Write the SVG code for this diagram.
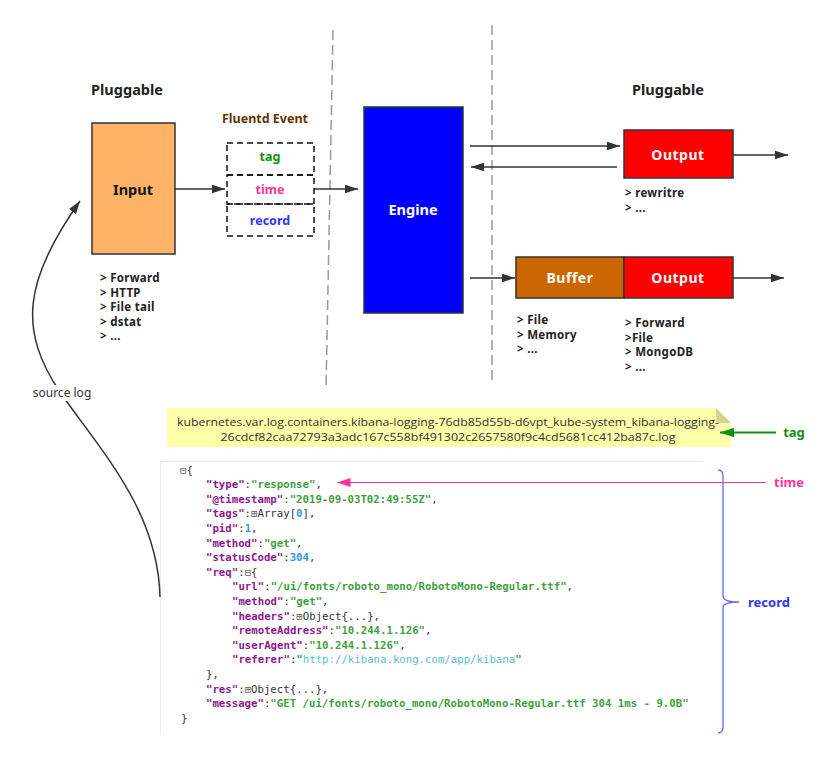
<svg xmlns="http://www.w3.org/2000/svg" width="840" height="757" viewBox="0 0 840 757">
<defs>
<style>
.t{font-family:"Noto Sans","Open Sans","DejaVu Sans",sans-serif;font-weight:bold;}
.lst{font-family:"Noto Sans","Open Sans","DejaVu Sans",sans-serif;font-weight:bold;font-size:11.5px;letter-spacing:0.3px;fill:#222;}
.box{stroke:#333;stroke-width:1.5;}
.dash{fill:none;stroke:#111;stroke-width:1.5;stroke-dasharray:6,4;}
.sep{fill:none;stroke:#999;stroke-width:1.5;stroke-dasharray:10,5;}
.ar{fill:none;stroke:#333;stroke-width:1.5;}
.j{font-family:"DejaVu Sans Mono","Liberation Mono",monospace;font-size:10.7px;fill:#333;}
.k{fill:#8b1a8b;font-weight:bold;}
.s{fill:#3f9f3f;font-weight:bold;}
.n{fill:#3a98d8;font-weight:bold;}
.u{fill:#5bbcd6;}
.g{fill:#666;}
</style>
<marker id="ah" viewBox="0 0 12 8" refX="12" refY="4" markerWidth="13" markerHeight="9" markerUnits="userSpaceOnUse" orient="auto">
<path d="M0,0 L12,4 L0,8 z" fill="#333"/>
</marker>
<marker id="ahg" viewBox="0 0 12 8" refX="12" refY="4" markerWidth="14" markerHeight="10" markerUnits="userSpaceOnUse" orient="auto">
<path d="M0,0 L12,4 L0,8 z" fill="#109010"/>
</marker>
<marker id="ahp" viewBox="0 0 12 8" refX="12" refY="4" markerWidth="14" markerHeight="9" markerUnits="userSpaceOnUse" orient="auto">
<path d="M0,0 L12,4 L0,8 z" fill="#ff3399"/>
</marker>
</defs>
<rect width="840" height="757" fill="#fff"/>

<g id="separators">
<line class="sep" x1="333" y1="30" x2="326" y2="390"/>
<line class="sep" x1="492" y1="25" x2="492" y2="384"/>
</g>

<g id="pluggable-left"><text class="t" x="127" y="95" text-anchor="middle" font-size="14.5" fill="#222">Pluggable</text></g>
<g id="pluggable-right"><text class="t" x="668" y="95" text-anchor="middle" font-size="14.5" fill="#222">Pluggable</text></g>

<g id="input">
<rect class="box" x="92" y="123" width="83" height="131" fill="#ffb366"/>
<text class="t" x="133" y="195" text-anchor="middle" font-size="14.5" fill="#111">Input</text>
</g>
<g id="input-list">
<text class="lst" x="100" y="282">&gt; Forward</text>
<text class="lst" x="100" y="296.5">&gt; HTTP</text>
<text class="lst" x="100" y="311">&gt; File tail</text>
<text class="lst" x="100" y="325.5">&gt; dstat</text>
<text class="lst" x="100" y="340">&gt; ...</text>
</g>

<g id="fluentd-event">
<text class="t" x="265" y="123" text-anchor="middle" font-size="12.5" fill="#663300">Fluentd Event</text>
<rect class="dash" x="227" y="143" width="87" height="32"/>
<rect class="dash" x="227" y="175" width="87" height="29"/>
<rect class="dash" x="227" y="204" width="87" height="32"/>
<text class="t" x="270" y="161" text-anchor="middle" font-size="12.5" fill="#109010">tag</text>
<text class="t" x="270" y="194" text-anchor="middle" font-size="12.5" fill="#ff3399">time</text>
<text class="t" x="270" y="225" text-anchor="middle" font-size="12.5" fill="#3333ff">record</text>
</g>

<g id="engine">
<rect class="box" x="364" y="107" width="99" height="206" fill="#0000ff"/>
<text class="t" x="413" y="215" text-anchor="middle" font-size="14.5" fill="#fff">Engine</text>
</g>

<g id="output-top">
<rect class="box" x="624" y="130" width="109" height="48" fill="#ff0000"/>
<text class="t" x="678" y="160" text-anchor="middle" font-size="14" fill="#fff" letter-spacing="0.5">Output</text>
</g>
<g id="output-top-list">
<text class="lst" x="625" y="197">&gt; rewritre</text>
<text class="lst" x="625" y="212">&gt; ...</text>
</g>

<g id="buffer">
<rect class="box" x="516" y="257" width="108" height="41" fill="#cc6600"/>
<text class="t" x="570" y="283" text-anchor="middle" font-size="14" fill="#fff" letter-spacing="0.5">Buffer</text>
</g>
<g id="output-bottom">
<rect class="box" x="624" y="257" width="109" height="41" fill="#ff0000"/>
<text class="t" x="678" y="283" text-anchor="middle" font-size="14" fill="#fff" letter-spacing="0.5">Output</text>
</g>
<g id="buffer-list">
<text class="lst" x="517" y="324">&gt; File</text>
<text class="lst" x="517" y="338.5">&gt; Memory</text>
<text class="lst" x="517" y="353">&gt; ...</text>
</g>
<g id="output-bottom-list">
<text class="lst" x="625" y="327">&gt; Forward</text>
<text class="lst" x="625" y="341.5">&gt;File</text>
<text class="lst" x="625" y="356">&gt; MongoDB</text>
<text class="lst" x="625" y="370.5">&gt; ...</text>
</g>

<g id="tag-note">
<path d="M167,408 L716,408 L731,423 L731,447 L167,447 z" fill="#ffffaa"/>
<path d="M716,408 L731,423 L716,423 z" fill="#d4d48c"/>
<text x="448" y="425.5" text-anchor="middle" font-family="Open Sans, Noto Sans, sans-serif" font-size="11" fill="#333" textLength="542" lengthAdjust="spacingAndGlyphs">kubernetes.var.log.containers.kibana-logging-76db85d55b-d6vpt_kube-system_kibana-logging-</text>
<text x="448" y="441" text-anchor="middle" font-family="Open Sans, Noto Sans, sans-serif" font-size="11" fill="#333" textLength="455" lengthAdjust="spacingAndGlyphs">26cdcf82caa72793a3adc167c558bf491302c2657580f9c4cd5681cc412ba87c.log</text>
</g>
<g id="tag-label"><text class="t" x="794" y="437" text-anchor="middle" font-size="13" fill="#109010">tag</text></g>
<g id="time-label"><text class="t" x="789" y="487" text-anchor="middle" font-size="13" fill="#ff3399">time</text></g>
<g id="record-label"><text class="t" x="748" y="607" font-size="13" fill="#3333ff">record</text></g>

<g id="record-json">
<line x1="160" y1="461.5" x2="703" y2="461.5" stroke="#e8e8e8" stroke-width="1"/>
<line x1="160.5" y1="461" x2="160.5" y2="734" stroke="#eeeeee" stroke-width="1"/>
<text class="j" x="180" y="473.5"><tspan class="g">⊟</tspan>{</text>
<text class="j" x="206" y="488.1"><tspan class="k">"type"</tspan>:<tspan class="s">"response"</tspan>,</text>
<text class="j" x="206" y="502.7"><tspan class="k">"@timestamp"</tspan>:<tspan class="s">"2019-09-03T02:49:55Z"</tspan>,</text>
<text class="j" x="206" y="517.3"><tspan class="k">"tags"</tspan>:<tspan class="g">⊞</tspan>Array[<tspan class="n">0</tspan>],</text>
<text class="j" x="206" y="531.9"><tspan class="k">"pid"</tspan>:<tspan class="n">1</tspan>,</text>
<text class="j" x="206" y="546.5"><tspan class="k">"method"</tspan>:<tspan class="s">"get"</tspan>,</text>
<text class="j" x="206" y="561.1"><tspan class="k">"statusCode"</tspan>:<tspan class="n">304</tspan>,</text>
<text class="j" x="206" y="575.7"><tspan class="k">"req"</tspan>:<tspan class="g">⊟</tspan>{</text>
<text class="j" x="232" y="590.3"><tspan class="k">"url"</tspan>:<tspan class="s">"/ui/fonts/roboto_mono/RobotoMono-Regular.ttf"</tspan>,</text>
<text class="j" x="232" y="604.9"><tspan class="k">"method"</tspan>:<tspan class="s">"get"</tspan>,</text>
<text class="j" x="232" y="619.5"><tspan class="k">"headers"</tspan>:<tspan class="g">⊞</tspan>Object{...},</text>
<text class="j" x="232" y="634.1"><tspan class="k">"remoteAddress"</tspan>:<tspan class="s">"10.244.1.126"</tspan>,</text>
<text class="j" x="232" y="648.7"><tspan class="k">"userAgent"</tspan>:<tspan class="s">"10.244.1.126"</tspan>,</text>
<text class="j" x="232" y="663.3"><tspan class="k">"referer"</tspan>:<tspan class="s">"</tspan><tspan class="u">http://kibana.kong.com/app/kibana</tspan><tspan class="s">"</tspan></text>
<text class="j" x="206" y="677.9">},</text>
<text class="j" x="206" y="692.5"><tspan class="k">"res"</tspan>:<tspan class="g">⊞</tspan>Object{...},</text>
<text class="j" x="206" y="707.1"><tspan class="k">"message"</tspan>:<tspan class="s">"GET /ui/fonts/roboto_mono/RobotoMono-Regular.ttf 304 1ms - 9.0B"</tspan></text>
<text class="j" x="181" y="721.7">}</text>
</g>

<g id="connectors">
<line class="ar" x1="175" y1="189" x2="225" y2="189" marker-end="url(#ah)"/>
<line class="ar" x1="314" y1="189" x2="358" y2="189" marker-end="url(#ah)"/>
<line class="ar" x1="470" y1="146" x2="620" y2="146" marker-end="url(#ah)"/>
<line class="ar" x1="617" y1="167" x2="471" y2="167" marker-end="url(#ah)"/>
<line class="ar" x1="733" y1="155" x2="788" y2="155" marker-end="url(#ah)"/>
<line class="ar" x1="470" y1="278" x2="515" y2="278" marker-end="url(#ah)"/>
<line class="ar" x1="733" y1="278" x2="784" y2="278" marker-end="url(#ah)"/>
<path class="ar" d="M160,597 C158,510 100,450 60,392 C18,330 24,280 80,201" marker-end="url(#ah)"/>
<rect x="30" y="385" width="64" height="16" fill="#fff"/>
<text x="62" y="397" text-anchor="middle" font-family="Noto Sans, Open Sans, sans-serif" font-size="12" fill="#333">source log</text>
<line x1="776" y1="432.5" x2="720" y2="432.5" stroke="#109010" stroke-width="2" marker-end="url(#ahg)"/>
<line x1="766" y1="482.5" x2="337" y2="482.5" stroke="#ff3399" stroke-width="1.2" marker-end="url(#ahp)"/>
<path d="M718,470 Q723,470 723,476 L723,596 Q723,602 739,602 Q723,602 723,608 L723,727 Q723,733 718,733" fill="none" stroke="#6666ff" stroke-width="1.3"/>
</g>
</svg>
